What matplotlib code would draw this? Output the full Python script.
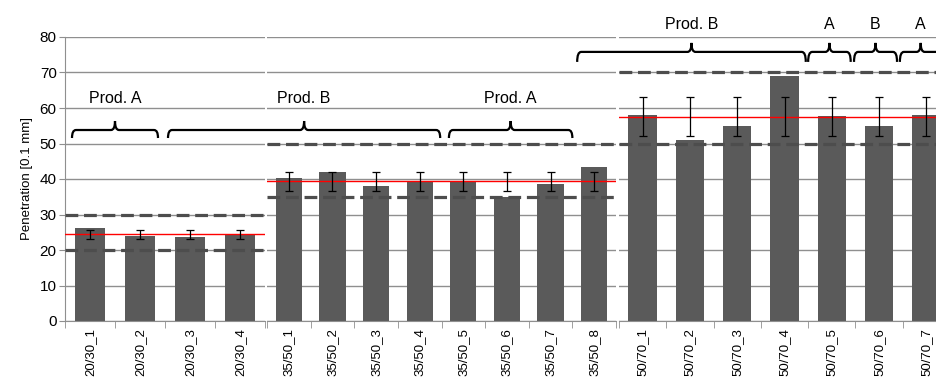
import matplotlib
matplotlib.use("Agg")
import matplotlib.pyplot as plt
from matplotlib.path import Path
from matplotlib.patches import PathPatch
from matplotlib.transforms import IdentityTransform

plt.rcParams['font.family'] = ['Liberation Sans', 'DejaVu Sans']

# --- data -------------------------------------------------------------
labels_2030 = ['20/30_1', '20/30_2', '20/30_3', '20/30_4']
values_2030 = [26.3, 23.9, 23.7, 24.4]
mean_2030, sd_2030 = 24.4, 1.2
limits_2030 = [20, 30]

labels_3550 = ['35/50_1', '35/50_2', '35/50_3', '35/50_4',
               '35/50_5', '35/50_6', '35/50_7', '35/50_8']
values_3550 = [40.2, 42.1, 38.0, 39.3, 39.3, 34.8, 38.7, 43.4]
mean_3550, sd_3550 = 39.3, 2.6
limits_3550 = [35, 50]

labels_5070 = ['50/70_1', '50/70_2', '50/70_3', '50/70_4',
               '50/70_5', '50/70_6', '50/70_7']
values_5070 = [58.0, 50.9, 55.0, 69.0, 57.7, 55.0, 57.9]
mean_5070, sd_5070 = 57.6, 5.6
limits_5070 = [50, 70]

# braces: (panel start, x start, panel end, x end, level, label)
braces = [
    (0, -0.36, 0, 1.36, 'low', 'Prod. A'),
    (0, 1.56, 1, 3.47, 'low', 'Prod. B'),
    (1, 3.67, 1, 6.50, 'low', 'Prod. A'),
    (1, 6.61, 2, 3.45, 'high', 'Prod. B'),
    (2, 3.50, 2, 4.40, 'high', 'A'),
    (2, 4.47, 2, 5.38, 'high', 'B'),
    (2, 5.44, 2, 6.32, 'high', 'A'),
]
brace_body = {'low': 53.8, 'high': 75.8}
brace_text = {'low': 62.8, 'high': 83.6}

panels = [
    (labels_2030, values_2030, mean_2030, sd_2030, limits_2030),
    (labels_3550, values_3550, mean_3550, sd_3550, limits_3550),
    (labels_5070, values_5070, mean_5070, sd_5070, limits_5070),
]

# --- figure -----------------------------------------------------------
W, H = 936, 378
fig = plt.figure(figsize=(W / 100, H / 100), dpi=100)

# panel extents in pixels (left, right)
spans = [(65, 265), (267, 616), (619, 950)]
y_top, y_bot = 37, 321

bar_color = '#5a5a5a'
grid_color = '#8f8f8f'
dash_color = '#4d4d4d'

axes = []
for i, ((x0, x1), (labels, vals, mean, sd, lims)) in enumerate(zip(spans, panels)):
    ax = fig.add_axes([x0 / W, (H - y_bot) / H, (x1 - x0) / W, (y_bot - y_top) / H])
    n = len(labels)
    x = list(range(n))
    ax.bar(x, vals, width=0.6, color=bar_color, zorder=2)
    ax.set_xlim(-0.5, n - 0.5)
    ax.set_ylim(0, 80)
    ax.set_yticks(range(0, 81, 10))
    ax.yaxis.grid(True, color=grid_color, lw=1.0, zorder=0)
    ax.set_axisbelow(True)

    for lim in lims:
        ax.axhline(lim, color=dash_color, lw=2.3, ls=(0, (4, 1.8)), zorder=3)
    ax.axhline(mean, color='red', lw=1.0, zorder=4)
    ax.errorbar(x, [mean] * n, yerr=sd, fmt='none', ecolor='black',
                elinewidth=0.9, capsize=3, capthick=0.9, zorder=5)

    ax.set_xticks(x)
    ax.set_xticklabels(labels, rotation=90, fontsize=9.5)
    ax.set_xticks([k - 0.5 for k in range(n + 1)], minor=True)
    ax.tick_params(axis='x', which='major', length=0, pad=5)
    ax.tick_params(axis='x', which='minor', length=5, color=grid_color, direction='out')

    for s in ['top', 'right']:
        ax.spines[s].set_visible(False)
    ax.spines['bottom'].set_color(grid_color)
    if i == 0:
        ax.spines['left'].set_color(grid_color)
        ax.tick_params(axis='y', length=4, color=grid_color, labelsize=11, pad=2)
        ax.set_ylabel('Penetration [0.1 mm]', fontsize=9.5, labelpad=5)
    else:
        ax.spines['left'].set_visible(False)
        ax.tick_params(axis='y', length=0, labelleft=False)
    axes.append(ax)

fig.canvas.draw()


def to_px(ax, xv, yv):
    return ax.transData.transform((xv, yv))


# --- braces -----------------------------------------------------------
for p0, xs, p1, xe, level, label in braces:
    a0, a1 = axes[p0], axes[p1]
    ya = brace_body[level]
    bx0, by = to_px(a0, xs, ya)
    bx1, _ = to_px(a1, xe, ya)
    xc = (bx0 + bx1) / 2
    drop = 8 if level == 'low' else 10
    rise = 9
    r = 4
    verts = [
        (bx0, by - drop), (bx0, by), (bx0 + r, by),
        (xc - r, by), (xc, by), (xc, by + rise),
        (xc, by), (xc + r, by),
        (bx1 - r, by), (bx1, by), (bx1, by - drop),
    ]
    codes = [Path.MOVETO, Path.CURVE3, Path.CURVE3,
             Path.LINETO, Path.CURVE3, Path.CURVE3,
             Path.CURVE3, Path.CURVE3,
             Path.LINETO, Path.CURVE3, Path.CURVE3]
    fig.add_artist(PathPatch(Path(verts, codes), fill=False, lw=1.6,
                             edgecolor='black', transform=IdentityTransform()))
    _, ty = to_px(a0, xs, brace_text[level])
    fig.text(xc / W, ty / H, label, fontsize=11.5, ha='center', va='center')

fig.savefig('out.png', dpi=100)
